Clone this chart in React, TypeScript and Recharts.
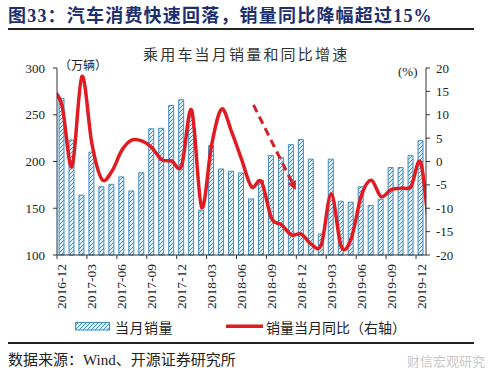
import { ComposedChart, Bar, Line, XAxis, YAxis, ReferenceLine } from 'recharts';

// 乘用车当月销量（万辆），2016-12 ~ 2019-12
const months = [
  '2016-12', '2017-01', '2017-02', '2017-03', '2017-04', '2017-05', '2017-06', '2017-07', '2017-08',
  '2017-09', '2017-10', '2017-11', '2017-12', '2018-01', '2018-02', '2018-03', '2018-04', '2018-05',
  '2018-06', '2018-07', '2018-08', '2018-09', '2018-10', '2018-11', '2018-12', '2019-01', '2019-02',
  '2019-03', '2019-04', '2019-05', '2019-06', '2019-07', '2019-08', '2019-09', '2019-10', '2019-11',
  '2019-12',
];
const monthlySales = [
  267.7, 223, 164, 210, 173, 175.6, 183.5, 168.5, 188,
  235, 235.5, 260, 266, 249, 148, 217, 192, 189.6,
  187.8, 160, 180, 206.3, 204, 218, 223.5, 202.5, 122.5,
  202.5, 157.5, 156.5, 173, 153, 159.7, 193.5, 193.5, 206.3,
  222.3,
];

// 同比（%），首尾各多一个月，画出来时被坐标轴裁掉
const yoyMonths = ['2016-11', ...months, '2020-01'];
const yoyGrowth = [
  15.5, 12, -1.1, 18.2, 3.8, -3.8, -2.1, 2.4, 4.6, 4.4,
  3.0, 0.4, 0.1, -0.9, 11.0, -9.8, 3.5, 11.2, 6.4, 0.5,
  -5.4, -4.3, -12.1, -13.5, -15.7, -15.5, -17.7, -17.8, -6.9, -18.2,
  -16.5, -7.4, -4.0, -7.5, -6.0, -5.7, -5.3, -0.4, -19.3,
];

const leftTicks = [100, 150, 200, 250, 300];
const rightTicks = [-20, -15, -10, -5, 0, 5, 10, 15, 20];

// dashed arrow annotation: [month index, yoy %]
const arrowFrom = [19.2, 12.1];
const arrowTo = [23.45, -6.1];

const barData = months.map((m, i) => ({ month: m, sales: monthlySales[i] }));
const lineData = yoyGrowth.map((v, k) => ({ pos: k - 1, month: yoyMonths[k], yoy: v }));

const SERIF = "'Liberation Serif', 'Noto Sans CJK SC', serif";
const RED = '#e11b22';

// excel-like smoothed line (catmull-rom through the points)
const excelSmooth = (context: any) => {
  let pts: number[][] = [];
  return {
    areaStart() {},
    areaEnd() {},
    lineStart() {
      pts = [];
    },
    point(x: number, y: number) {
      pts.push([+x, +y]);
    },
    lineEnd() {
      const n = pts.length;
      if (!n) return;
      context.moveTo(pts[0][0], pts[0][1]);
      for (let i = 0; i < n - 1; i++) {
        const p0 = pts[i - 1] || pts[i];
        const p1 = pts[i];
        const p2 = pts[i + 1];
        const p3 = pts[i + 2] || p2;
        context.bezierCurveTo(
          p1[0] + (p2[0] - p0[0]) / 6,
          p1[1] + (p2[1] - p0[1]) / 6,
          p2[0] - (p3[0] - p1[0]) / 6,
          p2[1] - (p3[1] - p1[1]) / 6,
          p2[0],
          p2[1]
        );
      }
    },
  };
};

const MonthTick = (props: any) => {
  const { x, y, payload } = props;
  const half = payload && payload.offset ? payload.offset : 5;
  const ty = y + 9;
  return (
    <g>
      <line x1={x - half} x2={x - half} y1={y} y2={y + 4} stroke="#333" />
      <text
        x={x}
        y={ty}
        transform={`rotate(-90 ${x} ${ty})`}
        textAnchor="end"
        dominantBaseline="central"
        fontSize={13.5}
        fontFamily={SERIF}
        fill="#222"
      >
        {payload.value}
      </text>
    </g>
  );
};

const DashedArrow = (props: any) => {
  const { x1, y1, x2, y2 } = props;
  const dx = x2 - x1;
  const dy = y2 - y1;
  const len = Math.sqrt(dx * dx + dy * dy) || 1;
  const ux = dx / len;
  const uy = dy / len;
  const hl = 9;
  const hw = 4.5;
  const bx = x2 - ux * hl;
  const by = y2 - uy * hl;
  return (
    <g>
      <line x1={x1} y1={y1} x2={bx} y2={by} stroke="#d42028" strokeWidth={3} strokeDasharray="8 5" />
      <polygon
        points={`${x2},${y2} ${bx - uy * hw},${by + ux * hw} ${bx + uy * hw},${by - ux * hw}`}
        fill="#d42028"
      />
    </g>
  );
};

const HatchDefs = ({ id }: { id: string }) => (
  <defs>
    <pattern id={id} patternUnits="userSpaceOnUse" width={4} height={4}>
      <rect width={4} height={4} fill="#dcf1fa" />
      <path d="M-1,1 l2,-2 M0,4 l4,-4 M3,5 l2,-2" stroke="#3d8ec6" strokeWidth={1} />
    </pattern>
  </defs>
);

const App = () => {
  return (
    <div style={{ position: 'absolute', left: 0, top: 0, width: 500, height: 370, background: '#fff', fontFamily: SERIF }}>
      <div style={{ position: 'absolute', left: 8, top: 1, fontSize: 18, fontWeight: 'bold', color: '#1d2f6f', letterSpacing: 1.2, whiteSpace: 'nowrap' }}>
        图33：汽车消费快速回落，销量同比降幅超过15%
      </div>
      <div style={{ position: 'absolute', left: 8, top: 28, width: 466, height: 2, background: '#222' }} />
      <div style={{ position: 'absolute', left: 143, top: 43, fontSize: 15, color: '#333', letterSpacing: 2.2, whiteSpace: 'nowrap' }}>
        乘用车当月销量和同比增速
      </div>
      <div style={{ position: 'absolute', left: 59, top: 56, fontSize: 12, color: '#222', whiteSpace: 'nowrap' }}>（万辆）</div>
      <div style={{ position: 'absolute', left: 398, top: 64, fontSize: 13, color: '#222', whiteSpace: 'nowrap' }}>(%)</div>

      <div style={{ position: 'absolute', left: 0, top: 0 }}>
        <ComposedChart width={500} height={370} data={barData} margin={{ top: 68, right: 34, bottom: 55, left: 0 }}>
          <HatchDefs id="hatch" />
          <XAxis
            dataKey="month"
            interval={2}
            tickLine={false}
            tickSize={0}
            tickMargin={0}
            height={60}
            axisLine={{ stroke: '#333' }}
            tick={<MonthTick />}
          />
          <XAxis xAxisId="idx" dataKey="pos" type="number" domain={[-0.5, 36.5]} allowDataOverflow hide />
          <YAxis
            yAxisId="left"
            domain={[100, 300]}
            ticks={leftTicks}
            width={57}
            tickSize={4}
            tickMargin={8}
            axisLine={{ stroke: '#333' }}
            tickLine={{ stroke: '#333' }}
            tick={{ fontSize: 13, fill: '#222', fontFamily: SERIF }}
          />
          <YAxis
            yAxisId="right"
            orientation="right"
            domain={[-20, 20]}
            ticks={rightTicks}
            width={40}
            tickSize={4}
            tickMargin={6}
            axisLine={{ stroke: '#333' }}
            tickLine={{ stroke: '#333' }}
            tick={{ fontSize: 13, fill: '#222', fontFamily: SERIF }}
          />
          <Bar yAxisId="left" dataKey="sales" fill="url(#hatch)" stroke="#3f8cc2" strokeWidth={1} barSize={5} isAnimationActive={false} />
          <Line
            xAxisId="idx"
            yAxisId="right"
            data={lineData}
            dataKey="yoy"
            type={excelSmooth as any}
            stroke={RED}
            strokeWidth={3.5}
            dot={false}
            activeDot={false}
            isAnimationActive={false}
          />
          <ReferenceLine
            xAxisId="idx"
            yAxisId="right"
            segment={[{ x: arrowFrom[0], y: arrowFrom[1] }, { x: arrowTo[0], y: arrowTo[1] }]}
            shape={DashedArrow}
            ifOverflow="visible"
          />
        </ComposedChart>
      </div>

      <svg style={{ position: 'absolute', left: 75, top: 322 }} width={36} height={9}>
        <HatchDefs id="hatchLegend" />
        <rect x={0.5} y={0.5} width={34} height={7.5} fill="url(#hatchLegend)" stroke="#3f8cc2" />
      </svg>
      <div style={{ position: 'absolute', left: 115, top: 317, fontSize: 14, color: '#222', whiteSpace: 'nowrap', letterSpacing: 0.5 }}>当月销量</div>
      <svg style={{ position: 'absolute', left: 226, top: 324 }} width={37} height={5}>
        <rect x={0} y={0.5} width={37} height={3.5} fill={RED} />
      </svg>
      <div style={{ position: 'absolute', left: 266, top: 317, fontSize: 14, color: '#222', whiteSpace: 'nowrap' }}>销量当月同比（右轴）</div>

      <div style={{ position: 'absolute', left: 8, top: 342, width: 466, height: 1.5, background: '#222' }} />
      <div style={{ position: 'absolute', left: 8, top: 348, fontSize: 15, color: '#222', whiteSpace: 'nowrap' }}>数据来源：Wind、开源证券研究所</div>
      <div style={{ position: 'absolute', left: 407, top: 351, fontSize: 13, color: '#c8c8c8', whiteSpace: 'nowrap' }}>财信宏观研究</div>
    </div>
  );
};

export default App;
